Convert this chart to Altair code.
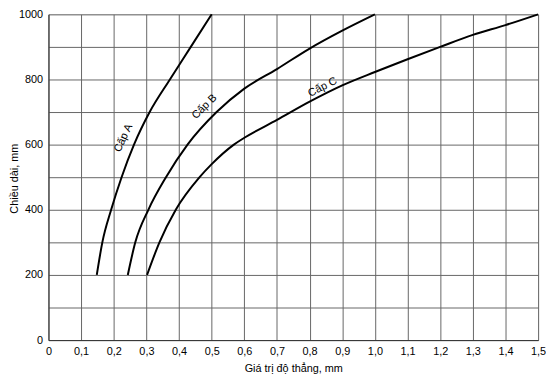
import altair as alt
import pandas as pd

# Curve data
a_x = [0.148, 0.165, 0.192, 0.224, 0.262, 0.31, 0.372, 0.436, 0.5]
a_y = [200, 300, 400, 500, 600, 700, 800, 900, 1000]

b_x = [0.243, 0.266, 0.306, 0.36, 0.426, 0.515, 0.6, 0.7, 0.8, 0.9, 1.0]
b_y = [200, 300, 400, 500, 600, 700, 772, 832, 895, 950, 1000]

c_x = [0.302, 0.34, 0.39, 0.463, 0.5, 0.568, 0.6, 0.7, 0.8, 0.9, 1.0, 1.1, 1.2, 1.3, 1.4, 1.5]
c_y = [200, 300, 400, 500, 540, 600, 621, 676, 732, 782, 823, 862, 900, 937, 967, 1000]

series = ["Cấp A", "Cấp B", "Cấp C"]

label_x = [0.23, 0.478, 0.84]
label_y = [620, 716, 776]
label_angle = [295, 315, 333]

x_ticks = [round(i * 0.1, 1) for i in range(16)]
y_ticks = list(range(0, 1001, 100))

rows = []
for name, xs, ys in zip(series, [a_x, b_x, c_x], [a_y, b_y, c_y]):
    for i, (xv, yv) in enumerate(zip(xs, ys)):
        rows.append({"series": name, "x": xv, "y": yv, "order": i})
df = pd.DataFrame(rows)

labels = pd.DataFrame({"text": series, "x": label_x, "y": label_y, "angle": label_angle})

xscale = alt.Scale(domain=[0, 1.5], nice=False)
yscale = alt.Scale(domain=[0, 1000], nice=False)

font = "Liberation Sans"

x_axis = alt.Axis(values=x_ticks,
                  labelExpr="datum.value == 0 ? '0' : replace(format(datum.value, '.1f'), '.', ',')",
                  labelOverlap=False, labelFlush=False,
                  grid=True, gridColor="#666", gridWidth=1, ticks=False,
                  domain=True, domainColor="#333", labelPadding=6,
                  labelFontSize=11, labelFont=font, labelColor="black",
                  titleFont=font, titleFontSize=11, titleFontWeight="normal",
                  titleColor="black", titlePadding=6)
y_axis = alt.Axis(values=y_ticks,
                  labelExpr="datum.value % 200 == 0 ? datum.label : ''",
                  format="d", labelOverlap=False, labelFlush=False,
                  grid=True, gridColor="#666", gridWidth=1, ticks=False,
                  domain=True, domainColor="#333", labelPadding=6,
                  labelFontSize=11, labelFont=font, labelColor="black",
                  titleFont=font, titleFontSize=11, titleFontWeight="normal",
                  titleColor="black", titleX=-34, titleY=166,
                  titleAlign="center", titleBaseline="middle", titleAngle=270)

x_enc = alt.X("x:Q", scale=xscale, title="Giá trị độ thẳng, mm", axis=x_axis)
y_enc = alt.Y("y:Q", scale=yscale, title="Chiều dài, mm", axis=y_axis)

lines = alt.Chart(df).mark_line(color="black", strokeWidth=2, interpolate="monotone").encode(
    x=x_enc, y=y_enc,
    detail="series:N",
    order="order:Q",
)

texts = alt.Chart(labels).mark_text(font=font, fontSize=11, color="black").encode(
    x=x_enc, y=y_enc,
    text="text:N",
    angle=alt.Angle("angle:Q", scale=None),
)

chart = alt.layer(lines, texts).properties(
    width=496, height=330,
    autosize=alt.AutoSizeParams(type="none"),
    padding={"left": 41, "top": 4, "right": 8, "bottom": 36},
).configure_view(stroke="#333", strokeWidth=1).configure(background="white")

chart.save("out.html", embed_options={"renderer": "svg", "actions": False})
